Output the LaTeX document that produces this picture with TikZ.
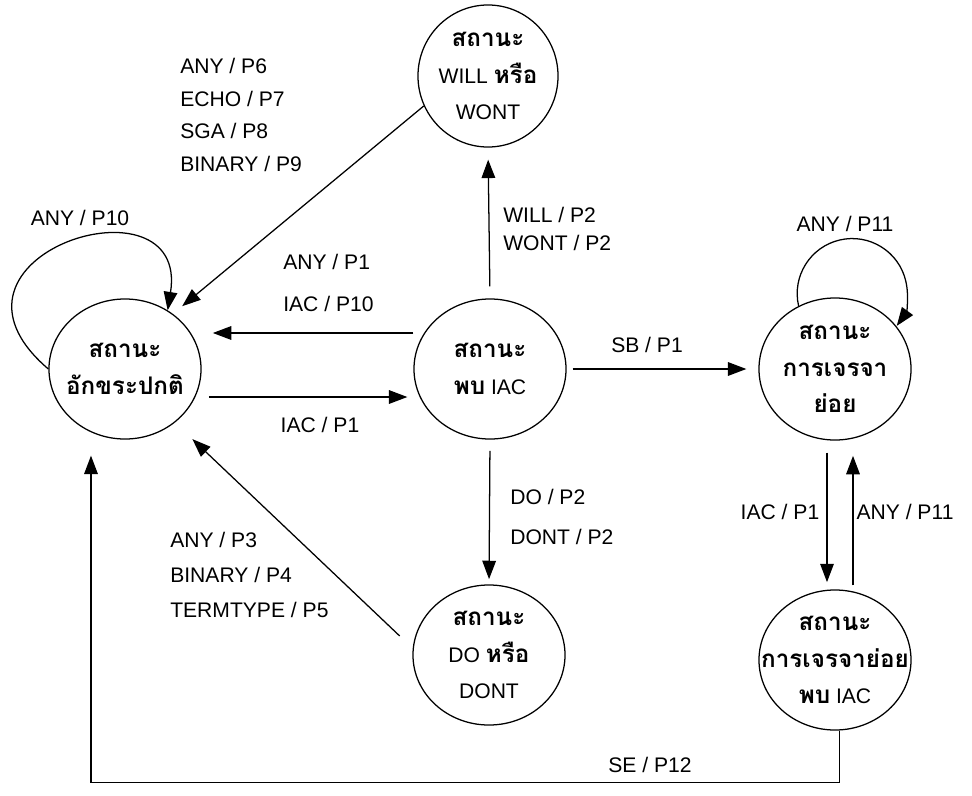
\documentclass[tikz,border=0pt]{standalone}
\usepackage{fontspec}
\setmainfont{Liberation Sans}
\newfontfamily\thaifont[Script=Thai, Scale=1.15]{Loma}
\usetikzlibrary{arrows.meta, shapes.geometric}

\tikzset{
  state/.style={draw, ellipse, line width=0.9pt, minimum width=3.8cm, minimum height=3.5cm,
    inner sep=-0.6cm, align=center, font=\fontsize{15pt}{26pt}\selectfont},
  lbl/.style={inner sep=0pt, align=left, font=\fontsize{15pt}{18pt}\selectfont},
  trans/.style={->, line width=0.9pt},
}

\begin{document}
\begin{tikzpicture}[x=0.025cm, y=0.025cm, >={Triangle[length=4.6mm, width=3.4mm]}]
\useasboundingbox (0,0) rectangle (972,-795);

% === Estados ===
\node[state] (normal) at (125,-369) {{\thaifont\bfseries สถานะ}\\{\thaifont\bfseries อักขระปกติ}};
\node[state] (iac) at (490,-369) {{\thaifont\bfseries สถานะ}\\{\thaifont\bfseries พบ} IAC};
\node[state, minimum width=3.5cm, minimum height=3.55cm] (will) at (488,-76)
  {{\thaifont\bfseries สถานะ}\\WILL {\thaifont\bfseries หรือ}\\WONT};
\node[state, minimum height=3.55cm] (subneg) at (835,-369)
  {{\thaifont\bfseries สถานะ}\\{\thaifont\bfseries การเจรจา}\\{\thaifont\bfseries ย่อย}};
\node[state] (dodont) at (489,-655) {{\thaifont\bfseries สถานะ}\\DO {\thaifont\bfseries หรือ}\\DONT};
\node[state] (subiac) at (835,-660)
  {{\thaifont\bfseries สถานะ}\\{\thaifont\bfseries การเจรจาย่อย}\\{\thaifont\bfseries พบ} IAC};

% === Lazos ===
\draw[trans] (normal.180) .. controls (-85,-255) and (190,-170) .. (normal.54);
\node[lbl] (l10) at (80,-218) {ANY / P10};
\draw[trans] (subneg.120) arc[start angle=193, end angle=-36, radius=1.375cm];
\node[lbl] (l11) at (845,-224) {ANY / P11};

% === Transiciones ===
\draw[trans, shorten >=0.3cm] (will.205) -- (normal.49);
\node[lbl, anchor=west] (l69) at (180,-115)
  {ANY / P6\\[5.4pt] ECHO / P7\\[5.4pt] SGA / P8\\[5.4pt] BINARY / P9};

\draw[trans, shorten <=0.3cm, shorten >=0.3cm] (iac.north) -- (will.south);
\node[lbl, anchor=west] (lwill) at (503,-229) {WILL / P2\\[1.8pt] WONT / P2};

\draw[trans, shorten >=0.28cm] ([yshift=0.9cm]iac.west) -- ([yshift=0.9cm]normal.east);
\node[lbl, anchor=west] (lany1) at (283,-283) {ANY / P1\\[12.3pt] IAC / P10};

\draw[trans, shorten <=0.18cm, shorten >=0.15cm] ([yshift=-0.7cm]normal.east) -- ([yshift=-0.7cm]iac.west);
\node[lbl] (liac1) at (320,-425) {IAC / P1};

\draw[trans, shorten <=0.15cm, shorten >=0.3cm] (iac.east) -- (subneg.west);
\node[lbl] (lsb) at (647,-345) {SB / P1};

\draw[trans, shorten <=0.28cm, shorten >=0.13cm] (iac.south) -- (dodont.north);
\node[lbl, anchor=west] (ldo) at (510,-517) {DO / P2\\[10.3pt] DONT / P2};

\draw[trans, shorten <=0.45cm, shorten >=0.6cm] (dodont.175) -- (normal.-47.5);
\node[lbl, anchor=west] (lp35) at (170,-575)
  {ANY / P3\\[6.8pt] BINARY / P4\\[6.8pt] TERMTYPE / P5};

\draw[trans, shorten <=0.3cm, shorten >=0.18cm] ([xshift=-0.2cm]subneg.south) -- ([xshift=-0.2cm]subiac.north);
\node[lbl] (lsiac) at (780,-512) {IAC / P1};

\draw[trans, shorten <=0.1cm, shorten >=0.38cm] ([xshift=0.45cm]subiac.north) -- ([xshift=0.45cm]subneg.south);
\node[lbl] (lsany) at (905,-512) {ANY / P11};

\draw[trans, shorten >=0.4cm] ([xshift=0.12cm]subiac.south) -- ++(0,-1.3cm) -| ([xshift=-0.85cm]normal.south);
\node[lbl] (lse) at (650,-765) {SE / P12};

\end{tikzpicture}
\end{document}
